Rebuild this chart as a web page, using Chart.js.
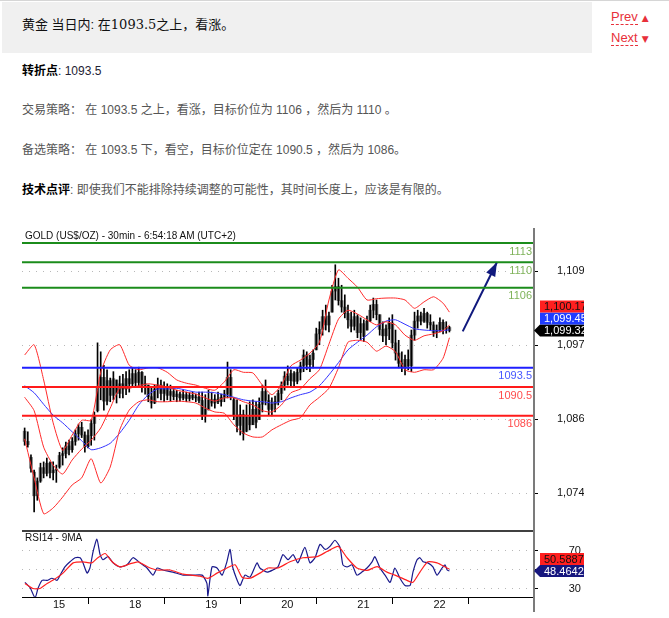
<!DOCTYPE html>
<html>
<head>
<meta charset="utf-8">
<script src="https://cdn.jsdelivr.net/npm/chart.js@4.4.1/dist/chart.umd.min.js"></script>
<style>
  body { margin: 0; width: 669px; height: 618px; background: #fff; position: relative; overflow: hidden;
         font-family: "Liberation Sans", Arial, "Noto Sans CJK SC", sans-serif; }
  .topline { position: absolute; left: 0; top: 0; width: 669px; height: 1px; background: #d6d6d6; }
  .head { position: absolute; left: 2px; top: 2px; width: 590px; height: 51px; background: #f0f0f0; }
  .head p { position: absolute; left: 20px; top: 13px; margin: 0; font-size: 13px; line-height: 20px; color: #111; white-space: nowrap; }
  .head .num { font-family: "DejaVu Serif", "Liberation Serif", serif; font-size: 13px; }
  .nav { position: absolute; left: 611px; font-size: 13px; line-height: 16px; color: #e8303a; }
  .nav .t { border-bottom: 1px dashed #e8303a; }
  .nav .a { font-size: 9px; margin-left: 4px; font-family: "DejaVu Sans", sans-serif; }
  .row { position: absolute; left: 22px; margin: 0; font-size: 12px; line-height: 16px; color: #555; white-space: nowrap; }
  .row b { color: #000; }
  #box { position: absolute; left: 22px; top: 225px; }
  #box canvas { display: block; }
  .lbl { position: absolute; font-size: 10px; line-height: 12px; color: #111; white-space: nowrap; }
</style>
</head>
<body>
<div class="topline"></div>
<div class="head"><p>黄金 当日内: 在<span class="num">1093.5</span>之上，看涨。</p></div>
<div class="nav" style="top:9px"><span class="t">Prev</span><span class="a">▲</span></div>
<div class="nav" style="top:30px"><span class="t">Next</span><span class="a">▼</span></div>

<p class="row" style="top:63px"><b>转折点</b><span style="color:#223">: 1093.5</span></p>
<p class="row" style="top:102px">交易策略： 在 1093.5 之上，看涨，目标价位为 1106 ，然后为 1110 。</p>
<p class="row" style="top:142px">备选策略： 在 1093.5 下，看空，目标价位定在 1090.5 ，然后为 1086。</p>
<p class="row" style="top:182px"><b>技术点评</b>: 即使我们不能排除持续调整的可能性，其时间长度上，应该是有限的。</p>

<div id="box"><canvas id="gold" width="562" height="390"></canvas></div>
<div class="lbl" style="left:25px; top:230px">GOLD (US$/OZ) - 30min - 6:54:18 AM (UTC+2)</div>
<div class="lbl" style="left:25px; top:532px">RSI14 - 9MA</div>

<script>
// x axis is in hours; day boundaries carry the date labels
const dayHours = [24, 48, 72, 96, 120, 144];
const dayLabels = ["15", "18", "19", "20", "21", "22"];
const xMin = 15.17;
const xMax = 176.37;

// hourly bars, first one at hour 16
const firstBarHour = 16;
const barOpen = [
  1083.6, 1082.0, 1079.5, 1077.2, 1073.5, 1075.8, 1077.9, 1077.0, 1078.6, 1077.1,
  1077.5, 1078.0, 1079.8, 1080.1, 1081.3, 1080.7, 1082.0, 1083.2, 1084.2, 1083.0,
  1081.2, 1082.9, 1084.8, 1086.8, 1090.5, 1092.0, 1088.3, 1091.5, 1089.2, 1091.6,
  1089.5, 1091.0, 1090.2, 1091.8, 1091.0, 1092.6, 1091.2, 1092.8, 1090.8, 1090.8,
  1089.0, 1088.0, 1090.2, 1090.8, 1089.5, 1090.5, 1089.2, 1089.8, 1089.0, 1089.4,
  1088.8, 1089.3, 1088.7, 1089.2, 1088.8, 1088.9, 1088.4, 1086.2, 1087.0, 1088.5,
  1088.0, 1088.6, 1088.2, 1088.9, 1089.4, 1092.0, 1088.5, 1086.0, 1084.5, 1086.2,
  1083.6, 1085.8, 1084.6, 1087.0, 1085.4, 1087.8, 1089.8, 1088.4, 1087.0, 1087.8,
  1088.2, 1089.5, 1090.8, 1092.2, 1091.5, 1092.6, 1091.4, 1092.8, 1093.8, 1095.5,
  1094.0, 1094.8, 1096.3, 1098.8, 1099.5, 1101.5, 1100.2, 1102.2, 1105.5, 1106.2,
  1104.0, 1103.0, 1102.0, 1101.0, 1100.0, 1101.5, 1099.0, 1100.4, 1099.4, 1100.8,
  1102.5, 1103.4, 1101.8, 1099.5, 1098.5, 1099.6, 1100.5, 1097.4, 1095.8, 1094.2,
  1093.6, 1094.8, 1093.8, 1098.6, 1100.8, 1101.6, 1100.8, 1102.0, 1100.6, 1100.2,
  1099.0, 1099.4, 1100.6, 1099.6, 1099.8
];
const barHigh = [
  1084.1, 1083.5, 1079.9, 1077.5, 1076.3, 1078.6, 1078.8, 1079.4, 1078.8, 1078.8,
  1078.3, 1080.3, 1081.0, 1081.9, 1082.2, 1082.6, 1083.8, 1084.7, 1085.0, 1083.5,
  1083.8, 1085.4, 1086.6, 1097.4, 1096.0, 1093.9, 1093.2, 1091.9, 1092.9, 1091.6,
  1092.2, 1092.5, 1092.9, 1093.2, 1093.5, 1093.2, 1093.6, 1092.9, 1092.2, 1090.8,
  1090.3, 1090.8, 1091.9, 1091.6, 1091.3, 1091.0, 1090.8, 1090.3, 1090.0, 1089.7,
  1090.0, 1089.7, 1089.6, 1089.7, 1089.4, 1089.7, 1089.7, 1089.3, 1090.0, 1089.7,
  1089.3, 1089.7, 1089.4, 1090.0, 1094.4, 1093.2, 1088.8, 1088.5, 1087.7, 1086.9,
  1087.7, 1088.2, 1088.5, 1088.2, 1088.8, 1090.8, 1091.6, 1089.3, 1088.8, 1089.1,
  1090.0, 1091.3, 1092.9, 1093.8, 1093.2, 1092.9, 1093.5, 1094.4, 1096.3, 1096.0,
  1095.5, 1096.3, 1099.7, 1100.7, 1102.5, 1103.3, 1102.2, 1106.4, 1109.6, 1107.5,
  1106.4, 1104.9, 1103.3, 1102.2, 1102.5, 1101.8, 1101.3, 1101.0, 1101.6, 1103.3,
  1104.4, 1104.1, 1101.8, 1100.7, 1100.2, 1101.3, 1101.8, 1099.4, 1097.8, 1096.0,
  1095.5, 1096.3, 1099.4, 1102.2, 1102.5, 1102.2, 1102.8, 1102.2, 1101.8, 1100.7,
  1100.2, 1101.3, 1101.0, 1100.7, 1100.0
];
const barLow = [
  1081.4, 1081.1, 1077.2, 1071.0, 1072.8, 1075.6, 1076.3, 1076.6, 1076.3, 1076.0,
  1075.6, 1077.8, 1078.3, 1079.4, 1079.9, 1080.3, 1081.4, 1082.2, 1082.6, 1080.3,
  1081.0, 1081.4, 1082.2, 1086.6, 1088.5, 1086.9, 1087.7, 1088.2, 1088.5, 1088.0,
  1088.8, 1088.8, 1089.3, 1089.7, 1090.5, 1090.4, 1090.7, 1089.7, 1089.4, 1088.2,
  1087.2, 1087.9, 1088.8, 1088.5, 1088.2, 1088.5, 1088.2, 1088.5, 1088.2, 1088.3,
  1088.5, 1088.2, 1088.3, 1088.5, 1088.2, 1088.0, 1085.4, 1085.0, 1086.9, 1087.5,
  1087.2, 1087.9, 1087.5, 1088.2, 1088.8, 1088.5, 1085.4, 1083.5, 1083.0, 1082.2,
  1083.5, 1083.8, 1084.6, 1084.1, 1085.4, 1086.6, 1087.7, 1086.1, 1086.0, 1086.6,
  1087.7, 1088.5, 1090.0, 1090.8, 1090.7, 1090.4, 1091.0, 1091.6, 1092.9, 1093.2,
  1092.9, 1093.5, 1096.3, 1097.1, 1098.6, 1099.4, 1099.1, 1102.2, 1104.1, 1103.3,
  1102.2, 1101.3, 1099.7, 1099.1, 1099.4, 1098.2, 1097.9, 1097.6, 1099.4, 1100.7,
  1101.3, 1101.0, 1098.6, 1097.6, 1097.1, 1097.9, 1096.6, 1094.7, 1093.5, 1092.9,
  1092.4, 1093.2, 1092.9, 1097.8, 1099.7, 1100.2, 1100.6, 1099.7, 1099.4, 1098.4,
  1098.2, 1099.1, 1098.8, 1098.9, 1099.1
];
const barClose = [
  1082.0, 1081.5, 1077.8, 1073.5, 1075.8, 1077.9, 1077.0, 1078.6, 1077.1, 1077.5,
  1077.6, 1079.8, 1080.1, 1081.3, 1080.7, 1082.0, 1083.2, 1084.2, 1083.0, 1081.2,
  1082.9, 1084.8, 1086.0, 1090.5, 1092.0, 1088.3, 1091.5, 1089.2, 1091.8, 1089.5,
  1091.0, 1090.2, 1091.8, 1091.0, 1092.6, 1091.2, 1092.8, 1090.8, 1091.0, 1089.0,
  1088.0, 1090.2, 1090.8, 1089.5, 1090.5, 1089.2, 1089.8, 1089.0, 1089.4, 1088.8,
  1089.3, 1088.7, 1089.2, 1088.8, 1088.9, 1088.4, 1086.2, 1087.0, 1088.5, 1088.0,
  1088.6, 1088.2, 1088.9, 1089.4, 1092.0, 1089.0, 1086.0, 1084.5, 1086.2, 1083.2,
  1085.8, 1084.6, 1087.0, 1085.0, 1087.8, 1089.8, 1088.4, 1087.0, 1087.8, 1088.2,
  1089.5, 1090.8, 1092.2, 1091.5, 1092.6, 1091.4, 1092.8, 1093.8, 1095.5, 1094.0,
  1094.8, 1095.8, 1098.8, 1099.5, 1101.5, 1100.2, 1101.6, 1105.5, 1106.2, 1104.0,
  1103.0, 1102.0, 1101.0, 1100.0, 1101.5, 1099.0, 1100.4, 1098.4, 1100.8, 1102.5,
  1103.4, 1101.8, 1099.5, 1098.5, 1099.6, 1100.5, 1097.4, 1095.8, 1094.2, 1093.6,
  1094.8, 1093.8, 1098.6, 1100.8, 1101.6, 1100.8, 1102.0, 1100.6, 1100.2, 1099.0,
  1099.4, 1100.6, 1099.6, 1099.8, 1099.32
];

// bollinger bands and the blue average, sampled every 3 hours
const bandHours = [
  16, 19, 22, 25, 28, 31, 34, 37, 40, 43,
  46, 49, 52, 55, 58, 61, 64, 67, 70, 73,
  76, 79, 82, 85, 88, 91, 94, 97, 100, 103,
  106, 109, 112, 115, 118, 121, 124, 127, 130, 133,
  136, 139, 142, 145, 148, 150
];
const bbUpper = [
  1095.5, 1097.1, 1091.6, 1084.9, 1080.6, 1083.0, 1085.3, 1085.3, 1092.8, 1096.3,
  1097.1, 1093.9, 1093.2, 1093.5, 1093.5, 1092.8, 1091.6, 1091.1, 1090.8, 1090.3,
  1090.0, 1091.3, 1093.2, 1092.8, 1092.7, 1090.8, 1089.3, 1090.8, 1093.8, 1094.7,
  1095.8, 1097.5, 1104.1, 1108.8, 1107.5, 1106.1, 1104.1, 1104.3, 1104.4, 1104.4,
  1104.1, 1102.8, 1103.8, 1104.6, 1103.6, 1102.2
];
const bbMiddle = [
  1088.9, 1086.8, 1081.1, 1078.3, 1076.9, 1079.1, 1080.8, 1082.2, 1084.1, 1087.2,
  1090.3, 1090.3, 1090.7, 1091.0, 1090.8, 1090.5, 1090.0, 1089.7, 1089.4, 1088.8,
  1088.3, 1088.8, 1088.8, 1088.2, 1087.7, 1086.8, 1086.6, 1087.7, 1089.6, 1090.2,
  1091.8, 1093.2, 1097.2, 1101.1, 1102.5, 1101.9, 1101.0, 1100.2, 1100.7, 1100.2,
  1098.6, 1097.8, 1098.5, 1098.8, 1099.3, 1100.17
];
const bbLower = [
  1082.4, 1076.3, 1070.7, 1071.6, 1073.3, 1075.2, 1076.3, 1079.3, 1075.5, 1078.0,
  1083.8, 1086.9, 1088.2, 1088.5, 1088.2, 1088.2, 1088.3, 1088.2, 1088.0, 1087.2,
  1086.6, 1086.4, 1084.6, 1083.3, 1082.7, 1082.7, 1083.8, 1084.6, 1085.3, 1085.7,
  1087.7, 1088.9, 1090.3, 1093.5, 1097.5, 1097.8, 1097.5, 1096.1, 1096.9, 1096.0,
  1093.2, 1092.8, 1093.2, 1093.2, 1095.0, 1098.2
];
const maBlue = [
  1090.7, 1089.6, 1087.8, 1086.1, 1084.9, 1083.5, 1082.1, 1080.7, 1081.0, 1081.7,
  1083.3, 1085.3, 1087.7, 1089.3, 1090.2, 1090.2, 1090.3, 1090.0, 1089.7, 1089.7,
  1089.6, 1089.3, 1088.9, 1088.5, 1088.3, 1088.2, 1088.0, 1088.2, 1088.8, 1089.3,
  1089.7, 1090.7, 1092.4, 1094.3, 1096.3, 1097.5, 1098.6, 1099.9, 1100.8, 1101.0,
  1100.3, 1099.6, 1099.4, 1099.3, 1099.3, 1099.45
];

// RSI(14) and its 9 period average
const rsiHours = [
  16.1, 17.7, 19.3, 20.2, 21.5, 23.1, 24.6, 26.2, 27.2, 28.7,
  30.3, 31.9, 33.5, 34.4, 35.7, 36.6, 37.6, 38.8, 39.8, 40.7,
  42.3, 43.9, 46.1, 48.3, 50.2, 52.4, 54.6, 56.5, 57.8, 59.6,
  62.8, 66.0, 69.1, 72.0, 73.5, 73.8, 75.1, 76.7, 78.3, 79.8,
  80.8, 81.7, 83.9, 85.5, 87.1, 89.3, 90.2, 92.5, 94.3, 95.9,
  97.5, 99.1, 100.7, 102.2, 104.4, 106.0, 107.6, 109.2, 110.8, 112.3,
  113.9, 115.5, 116.4, 117.7, 119.3, 120.8, 122.4, 124.0, 125.6, 126.5,
  128.1, 129.7, 131.3, 132.8, 134.4, 136.0, 137.6, 138.5, 139.8, 140.7,
  141.7, 143.2, 144.8, 146.1, 147.7, 148.6, 149.3, 150.0
];
const rsiValues = [
  36.5, 31.1, 20.3, 30.0, 38.6, 38.6, 40.8, 38.6, 44.1, 52.7,
  58.1, 62.4, 62.4, 57.0, 46.2, 51.6, 68.9, 81.9, 65.7, 60.3,
  63.5, 57.0, 52.7, 54.9, 62.4, 57.0, 51.6, 44.1, 51.6, 49.5,
  47.3, 44.1, 44.1, 44.1, 35.4, 22.4, 52.7, 51.6, 44.1, 58.1,
  71.1, 51.6, 33.2, 44.1, 41.9, 57.0, 51.6, 47.3, 49.5, 52.7,
  65.7, 60.3, 65.7, 57.0, 73.2, 57.0, 62.4, 76.5, 71.1, 74.3,
  80.8, 73.2, 54.9, 52.7, 54.9, 44.1, 47.3, 51.6, 58.1, 63.5,
  51.6, 44.1, 36.5, 51.6, 40.8, 33.2, 33.2, 47.3, 60.3, 62.4,
  58.1, 57.0, 52.7, 44.1, 51.6, 54.9, 49.5, 48.4642
];
const rsiMaHours = [
  16.1, 18.6, 20.8, 23.1, 24.9, 28.1, 31.3, 34.4, 37.2, 39.1,
  41.4, 43.6, 46.1, 49.2, 51.8, 54.9, 57.8, 61.9, 66.0, 71.3,
  73.8, 76.7, 79.8, 82.4, 84.6, 87.1, 90.2, 92.8, 95.9, 99.7,
  103.8, 108.2, 111.4, 114.9, 117.7, 120.8, 124.0, 127.2, 130.3, 132.8,
  136.6, 138.5, 140.7, 143.2, 146.1, 149.2, 150.0
];
const rsiMaValues = [
  35.4, 30.0, 30.0, 35.4, 38.6, 46.2, 57.0, 58.1, 57.0, 62.4,
  66.8, 58.1, 52.7, 55.9, 58.1, 52.7, 49.5, 49.5, 45.1, 43.0,
  40.8, 46.2, 51.6, 54.9, 41.9, 40.8, 46.2, 51.6, 51.6, 58.1,
  62.4, 63.5, 68.9, 74.3, 62.4, 51.6, 49.0, 53.0, 47.3, 44.1,
  38.6, 36.5, 47.3, 58.1, 57.0, 51.6, 50.5887
];

// support / resistance levels
const levelValues = [1113, 1110, 1106, 1093.5, 1090.5, 1086];
const levelColors = ["#1b8c1b", "#1b8c1b", "#1b8c1b", "#1f1fff", "#ff1a1a", "#ff1a1a"];
const levelTextColors = ["#7fb35a", "#7fb35a", "#7fb35a", "#4657ff", "#ff4b4b", "#ff4b4b"];

const priceTicks = [1073.9, 1085.5, 1097.0, 1108.6];
const rsiTicks = [30, 50, 70];

// target arrow, start and tip
const arrowHours = [154.2, 165.0];
const arrowPrices = [1099.2, 1110.0];

const fontFamily = '"Liberation Sans", Arial, sans-serif';
Chart.defaults.font.family = fontFamily;

const barHours = barClose.map((_, i) => firstBarHour + i);
const points = (xs, ys) => xs.map((x, i) => ({ x: x, y: ys[i] }));
const last = (arr) => arr[arr.length - 1];

function lineSet(data, color, axis, width, order) {
  return {
    type: "line", data: data, yAxisID: axis, borderColor: color, borderWidth: width,
    pointRadius: 0, tension: 0.2, fill: false, order: order,
  };
}

const datasets = [];
levelValues.forEach((v, i) => {
  datasets.push(lineSet([{ x: xMin, y: v }, { x: xMax, y: v }], levelColors[i], "y", 2, 0));
});
datasets.push(lineSet(points(arrowHours, arrowPrices), "#111a7e", "y", 2, 0));
datasets.push(lineSet(points(bandHours, bbUpper), "#ff2a2a", "y", 1, 2));
datasets.push(lineSet(points(bandHours, bbMiddle), "#ff2a2a", "y", 1, 2));
datasets.push(lineSet(points(bandHours, bbLower), "#ff2a2a", "y", 1, 2));
datasets.push(lineSet(points(bandHours, maBlue), "#3333ff", "y", 1, 2));
datasets.push(lineSet(points(rsiMaHours, rsiMaValues), "#ff2020", "rsi", 1.2, 1));
datasets.push(lineSet(points(rsiHours, rsiValues), "#1a1a8c", "rsi", 1.2, 1));
datasets.push({
  type: "bar", yAxisID: "y", grouped: false, order: 4, barThickness: 1,
  backgroundColor: "#000", borderWidth: 0,
  data: barHours.map((h, i) => ({ x: h, y: [barLow[i], barHigh[i]] })),
});
datasets.push({
  type: "bar", yAxisID: "y", grouped: false, order: 5, barThickness: 3, minBarLength: 1,
  backgroundColor: "#7a7a7a", borderWidth: 0,
  data: barHours.map((h, i) => ({ x: h, y: [barOpen[i], barClose[i]] })),
});

// value tags stacked on the right axis, lowest first
function drawTags(ctx, scale, tags, left, right) {
  let prev = Infinity;
  ctx.font = "11px " + fontFamily;
  ctx.textAlign = "left";
  ctx.textBaseline = "middle";
  tags.forEach((t) => {
    const cy = Math.min(scale.getPixelForValue(t.value), prev - 12);
    prev = cy;
    ctx.fillStyle = t.bg;
    ctx.beginPath();
    if (t.pointer) {
      ctx.moveTo(left - 6, cy);
      ctx.lineTo(left, cy - 6);
    } else {
      ctx.moveTo(left, cy - 6);
    }
    ctx.lineTo(right, cy - 6);
    ctx.lineTo(right, cy + 6);
    ctx.lineTo(left, cy + 6);
    ctx.closePath();
    ctx.fill();
    ctx.fillStyle = t.fg;
    ctx.fillText(t.text, left + 4, cy + 0.5);
  });
}

const decorations = {
  id: "decorations",
  afterDatasetsDraw(chart) {
    const { ctx, chartArea, scales } = chart;
    const sx = scales.x, sy = scales.y;
    ctx.save();
    // level captions under the right end of each line
    ctx.font = "11px " + fontFamily;
    ctx.textAlign = "right";
    ctx.textBaseline = "top";
    levelValues.forEach((v, i) => {
      ctx.fillStyle = levelTextColors[i];
      ctx.fillText(String(v), chartArea.right - 1, sy.getPixelForValue(v) + 3);
    });
    // arrow head
    const x0 = sx.getPixelForValue(arrowHours[0]), y0 = sy.getPixelForValue(arrowPrices[0]);
    const x1 = sx.getPixelForValue(arrowHours[1]), y1 = sy.getPixelForValue(arrowPrices[1]);
    const a = Math.atan2(y1 - y0, x1 - x0);
    const len = 14, half = 5;
    ctx.fillStyle = "#111a7e";
    ctx.beginPath();
    ctx.moveTo(x1, y1);
    ctx.lineTo(x1 - len * Math.cos(a) + half * Math.sin(a), y1 - len * Math.sin(a) - half * Math.cos(a));
    ctx.lineTo(x1 - len * Math.cos(a) - half * Math.sin(a), y1 - len * Math.sin(a) + half * Math.cos(a));
    ctx.closePath();
    ctx.fill();
    ctx.restore();
  },
  afterDraw(chart) {
    const { ctx, chartArea, scales, width, height } = chart;
    const rsi = scales.rsi;
    ctx.save();
    // pane separator
    ctx.strokeStyle = "#000";
    ctx.lineWidth = 1.5;
    ctx.beginPath();
    ctx.moveTo(chartArea.left, rsi.top);
    ctx.lineTo(chartArea.right, rsi.top);
    ctx.stroke();
    // price axis line
    ctx.strokeStyle = "#7b7b7b";
    ctx.lineWidth = 2;
    ctx.beginPath();
    ctx.moveTo(chartArea.right + 1, chartArea.top - 1);
    ctx.lineTo(chartArea.right + 1, height - 3);
    ctx.stroke();

    const left = chartArea.right + 7;
    drawTags(ctx, scales.y, [
      { value: last(barClose), text: last(barClose).toLocaleString("en-US", { minimumFractionDigits: 2 }), bg: "#000", fg: "#fff", pointer: true },
      { value: last(maBlue), text: last(maBlue).toLocaleString("en-US", { minimumFractionDigits: 2 }), bg: "#1f3cff", fg: "#fff" },
      { value: last(bbMiddle), text: last(bbMiddle).toLocaleString("en-US", { minimumFractionDigits: 2 }), bg: "#ff1f1f", fg: "#111" },
    ], left, width);
    drawTags(ctx, rsi, [
      { value: last(rsiValues), text: last(rsiValues).toFixed(4), bg: "#16167e", fg: "#fff", pointer: true },
      { value: last(rsiMaValues), text: last(rsiMaValues).toFixed(4), bg: "#ff1f1f", fg: "#111" },
    ], left, width);
    ctx.restore();
  },
};

// fixed axis sizes; edge label padding is dropped so the panes keep their height
function fitRight(s) {
  s.width = 51;
  s.paddingTop = 0;
  s.paddingBottom = 0;
}

new Chart(document.getElementById("gold"), {
  type: "line",
  data: { datasets: datasets },
  plugins: [decorations],
  options: {
    responsive: false,
    animation: false,
    layout: { padding: { top: 4, left: 0, right: 0, bottom: 0 } },
    plugins: { legend: { display: false }, tooltip: { enabled: false } },
    scales: {
      x: {
        type: "linear", min: xMin, max: xMax, offset: false,
        afterBuildTicks: (s) => { s.ticks = dayHours.map((v) => ({ value: v })); },
        afterFit: (s) => { s.height = 18; s.paddingLeft = 0; s.paddingRight = 0; },
        grid: { drawOnChartArea: false, tickLength: 7, tickColor: "#000" },
        border: { color: "#000", width: 1 },
        ticks: {
          autoSkip: false, maxRotation: 0, align: "start", labelOffset: 3, padding: -6,
          color: "#111", font: { size: 11 },
          callback: (v, i) => dayLabels[i],
        },
      },
      y: {
        type: "linear", position: "right", stack: "panes", stackWeight: 302,
        min: 1068.0, max: 1115.19,
        afterBuildTicks: (s) => { s.ticks = priceTicks.map((v) => ({ value: v })); },
        afterFit: fitRight,
        grid: { color: "#b8b8b8", tickLength: 5, tickColor: "#000" },
        border: { display: false, dash: [1, 6] },
        ticks: {
          autoSkip: false, padding: 19, color: "#111", font: { size: 11 },
          callback: (v) => Math.round(v).toLocaleString("en-US"),
        },
      },
      rsi: {
        type: "linear", position: "right", stack: "panes", stackWeight: 66,
        min: 21.1, max: 90.5,
        afterBuildTicks: (s) => { s.ticks = rsiTicks.map((v) => ({ value: v })); },
        afterFit: fitRight,
        grid: { color: "#b8b8b8", tickLength: 5, tickColor: "#000" },
        border: { display: false, dash: [1, 6] },
        ticks: {
          autoSkip: false, padding: 4, crossAlign: "far", color: "#111", font: { size: 11 },
          callback: (v) => (v === 50 ? "" : String(v) + " "),
        },
      },
    },
  },
});
</script>
</body>
</html>
